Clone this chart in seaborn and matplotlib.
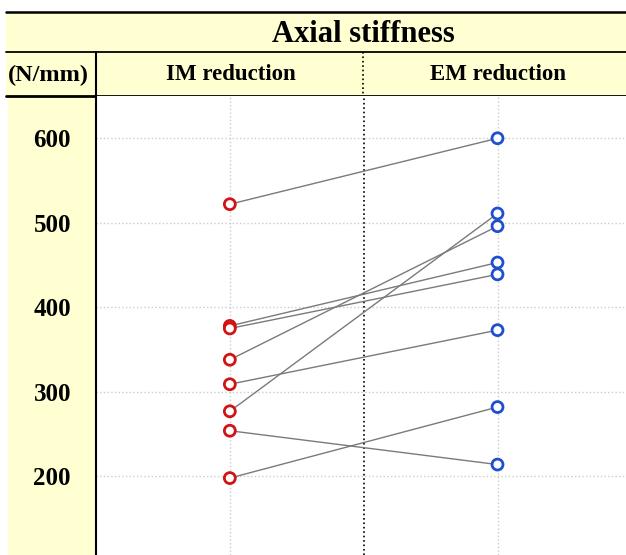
import matplotlib
matplotlib.use("Agg")
import matplotlib.pyplot as plt
import numpy as np
import pandas as pd
import seaborn as sns
from matplotlib.patches import Rectangle

# Axial stiffness (N/mm), one pair per specimen
groups = ["IM reduction", "EM reduction"]
im_values = [522, 378, 375, 338, 309, 277, 254, 198]
em_values = [600, 453, 439, 496, 373, 511, 214, 282]
y_ticks = [200, 300, 400, 500, 600]

colors = {"IM reduction": "#d01414", "EM reduction": "#1f4fcf"}
yellow = "#ffffd2"

# Long format frame for seaborn
rows = []
for i, (a, b) in enumerate(zip(im_values, em_values)):
    rows.append({"pair": i, "group": groups[0], "pos": 0, "value": a})
    rows.append({"pair": i, "group": groups[1], "pos": 1, "value": b})
df = pd.DataFrame(rows)

sns.set_style("white")
plt.rcParams["font.family"] = ["Liberation Serif", "DejaVu Serif"]
plt.rcParams["text.color"] = "black"
plt.rcParams["ytick.color"] = "black"

W, H = 626, 555
fig = plt.figure(figsize=(W / 100, H / 100), dpi=100)

# Background layer in pixel coordinates: header bands, left column, rules
bg = fig.add_axes([0, 0, 1, 1])
bg.set_xlim(0, W)
bg.set_ylim(H, 0)
bg.axis("off")
bg.add_patch(Rectangle((6, 12), W - 6, 84, color=yellow, lw=0))
bg.add_patch(Rectangle((8, 96), 88, H - 96, color=yellow, lw=0))
bg.plot([6, W], [12, 12], color="black", lw=1.8)
bg.plot([6, W], [52, 52], color="black", lw=1.3)
bg.plot([6, W], [96, 96], color="black", lw=2.0)
bg.plot([96, 96], [52, 96], color="black", lw=1.5)
bg.plot([363.3, 363.3], [52, 96], color="black", lw=1.2, ls=":")

bold = dict(fontweight="bold", ha="center", va="center", color="black")
bg.text(363, 34, "Axial stiffness", fontsize=22, **bold)
bg.text(48, 75, "(N/mm)", fontsize=17.5, **bold)
bg.text(231, 75, "IM reduction", fontsize=16.5, **bold)
bg.text(498, 75, "EM reduction", fontsize=16.5, **bold)

# Main plot area
ax = fig.add_axes([96 / W, 0, (W - 96) / W, (H - 96) / H])
ax.set_facecolor("white")

sns.lineplot(data=df, x="pos", y="value", units="pair", estimator=None,
             color="#7a7a7a", lw=1.0, ax=ax, zorder=2)
sns.scatterplot(data=df, x="pos", y="value", hue="group", palette=colors,
                s=62, legend=False, ax=ax, zorder=3)
# hollow-looking markers: coloured ring, white fill hides the line ends
pts = ax.collections[-1]
pts.set_edgecolors(pts.get_facecolors())
pts.set_facecolors("white")
pts.set_linewidths(2.0)

ax.axvline(0.5, color="black", lw=1.2, ls=":", zorder=1)

ax.set_xlim(-0.5, 1.48)
ax.set_ylim(107, 650)
ax.set_xticks([0, 1])
ax.set_yticks(y_ticks)
ax.grid(True, color="#cccccc", ls=":", lw=1.0)
ax.set_axisbelow(True)
ax.set_xlabel("")
ax.set_ylabel("")
ax.tick_params(axis="x", labelbottom=False, length=0)
ax.tick_params(axis="y", length=0, pad=18, labelsize=18, labelcolor="black")
for lab in ax.get_yticklabels():
    lab.set_fontweight("bold")
for side in ["top", "right", "bottom"]:
    ax.spines[side].set_visible(False)
ax.spines["left"].set_color("black")
ax.spines["left"].set_linewidth(1.5)

fig.savefig("out.png", dpi=100)
